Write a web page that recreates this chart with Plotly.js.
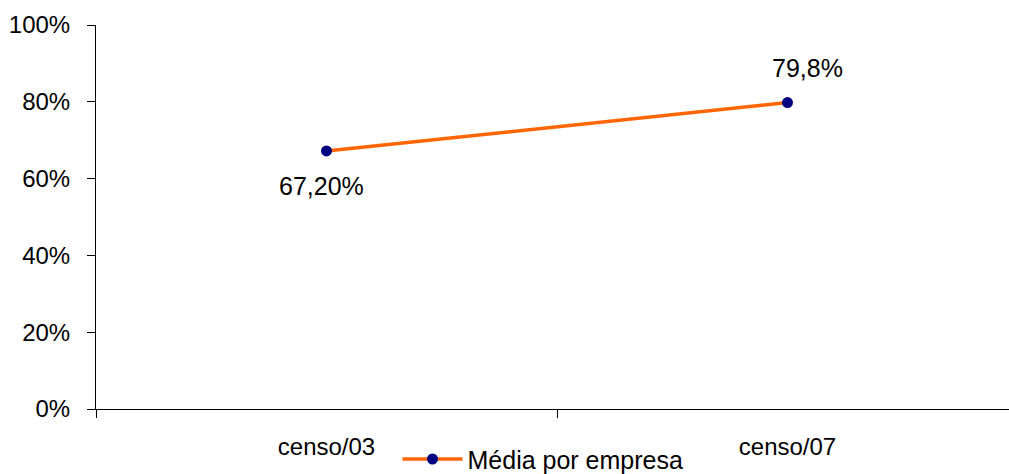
<!DOCTYPE html>
<html>
<head>
<meta charset="utf-8">
<script src="https://cdn.plot.ly/plotly-3.0.1.min.js"></script>
<style>
  html, body { margin: 0; padding: 0; overflow: hidden; background: #fff; }
  #chart { width: 1030px; height: 474px; }
</style>
</head>
<body>
<div id="chart"></div>
<script>
const categories = ['censo/03', 'censo/07'];
const mediaValues = [67.2, 79.8];
const pointLabels = ['67,20%', '79,8%'];
const seriesName = 'Média por empresa';
const yTicks = [0, 20, 40, 60, 80, 100];

const FONT = 'Liberation Sans, Arial, sans-serif';

const trace = {
  type: 'scatter',
  mode: 'lines+markers',
  x: categories,
  y: mediaValues,
  name: seriesName,
  line: { color: '#FF6600', width: 3.5 },
  marker: { color: '#000080', size: 11 },
  showlegend: true,
  hoverinfo: 'x+y'
};

const labelShift = [{ x: -5, y: -35 }, { x: 20, y: 35 }];
const annotations = categories.map((c, i) => ({
  x: c, y: mediaValues[i], xref: 'x', yref: 'y',
  text: pointLabels[i], showarrow: false,
  xshift: labelShift[i].x, yshift: labelShift[i].y,
  font: { family: FONT, size: 25, color: '#000' }
}));

const layout = {
  width: 1030, height: 474,
  margin: { l: 96, r: 12, t: 25, b: 65, autoexpand: false },
  paper_bgcolor: '#fff', plot_bgcolor: '#fff',
  font: { family: FONT, size: 24, color: '#000' },
  showlegend: true,
  legend: {
    orientation: 'h', x: 0.327, xanchor: 'left', y: -0.071, yanchor: 'top',
    bgcolor: 'rgba(255,255,255,1)', itemwidth: 60,
    font: { family: FONT, size: 25, color: '#000' }
  },
  xaxis: {
    type: 'category', range: [-0.5, 1.5],
    showline: true, linecolor: '#000', linewidth: 1,
    ticks: 'outside', ticklen: 8, tickcolor: '#000', tickwidth: 1,
    tickson: 'boundaries', showgrid: false, zeroline: false,
    ticklabelstandoff: 16,
    tickfont: { family: FONT, size: 24, color: '#000' },
    fixedrange: true
  },
  yaxis: {
    range: [0, 100], tickvals: yTicks, ticktext: yTicks.map(v => v + '%'),
    showline: true, linecolor: '#000', linewidth: 1,
    ticks: 'outside', ticklen: 8, tickcolor: '#000', tickwidth: 1,
    showgrid: false, zeroline: false,
    ticklabelstandoff: 12,
    tickfont: { family: FONT, size: 24, color: '#000' },
    fixedrange: true
  },
  annotations: annotations
};

Plotly.newPlot('chart', [trace], layout, { displayModeBar: false, staticPlot: true });
</script>
</body>
</html>
